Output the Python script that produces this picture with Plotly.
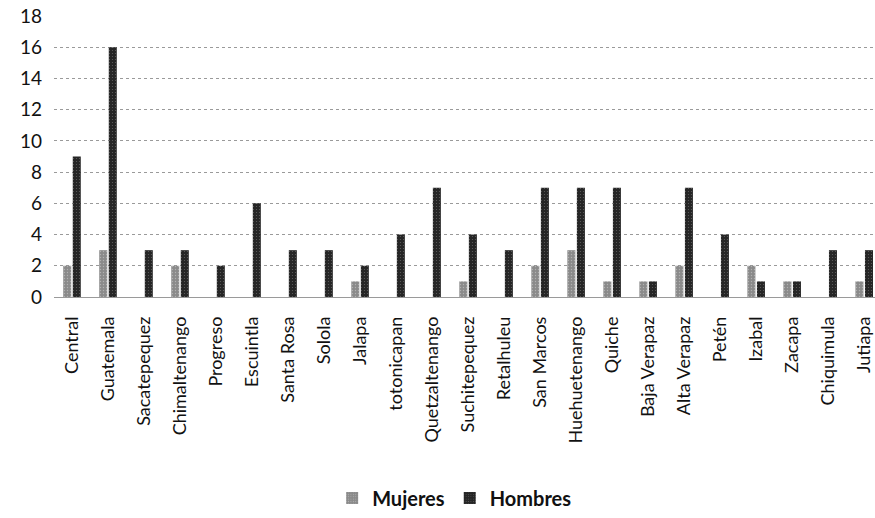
import plotly.graph_objects as go

categories = ["Central", "Guatemala", "Sacatepequez", "Chimaltenango", "Progreso", "Escuintla",
              "Santa Rosa", "Solola", "Jalapa", "totonicapan", "Quetzaltenango", "Suchitepequez",
              "Retalhuleu", "San Marcos", "Huehuetenango", "Quiche", "Baja Verapaz", "Alta Verapaz",
              "Petén", "Izabal", "Zacapa", "Chiquimula", "Jutiapa"]
mujeres = [2, 3, 0, 2, 0, 0, 0, 0, 1, 0, 0, 1, 0, 2, 3, 1, 1, 2, 0, 2, 1, 0, 1]
hombres = [9, 16, 3, 3, 2, 6, 3, 3, 2, 4, 7, 4, 3, 7, 7, 7, 1, 7, 4, 1, 1, 3, 3]
y_ticks = [0, 2, 4, 6, 8, 10, 12, 14, 16, 18]

fig = go.Figure()
fig.add_trace(go.Bar(name="Mujeres", x=categories, y=mujeres,
                     marker=dict(color="#8a8a8a", line=dict(width=0),
                                 pattern=dict(shape=".", fgcolor="#d8d8d8", bgcolor="#8a8a8a",
                                              size=3, solidity=0.15))))
fig.add_trace(go.Bar(name="Hombres", x=categories, y=hombres,
                     marker=dict(color="#262626", line=dict(width=0),
                                 pattern=dict(shape=".", fgcolor="#9a9a9a", bgcolor="#262626",
                                              size=3, solidity=0.12))))

fig.update_layout(
    width=875, height=518,
    margin=dict(l=54, r=0, t=16, b=211),
    paper_bgcolor="white", plot_bgcolor="white",
    barmode="group", bargap=0.47, bargroupgap=0.16,
    font=dict(family="Lato, Open Sans, sans-serif", color="#111111"),
    showlegend=True,
    legend=dict(orientation="h", x=0.488, xanchor="center", y=-0.715, yanchor="middle",
                font=dict(size=20, color="#111111", weight="bold"), traceorder="normal",
                itemwidth=30),
    xaxis=dict(tickangle=-90, tickfont=dict(size=18), showgrid=False, showline=False,
               ticks="", automargin=False, range=[-0.5, 22.3], ticklabelstandoff=15,
               ticklabeloverflow="allow"),
    yaxis=dict(range=[0, 18], tickvals=y_ticks, tickfont=dict(size=19),
               showgrid=True, gridcolor="#9a9a9a", griddash="dot", gridwidth=1,
               zeroline=True, zerolinecolor="#9a9a9a", zerolinewidth=1,
               showline=False, ticks="", automargin=False, ticklabelstandoff=11),
)

fig.write_html("out.html", config={"displayModeBar": False},
               post_script="document.body.style.margin='0';document.body.style.overflow='hidden';")
